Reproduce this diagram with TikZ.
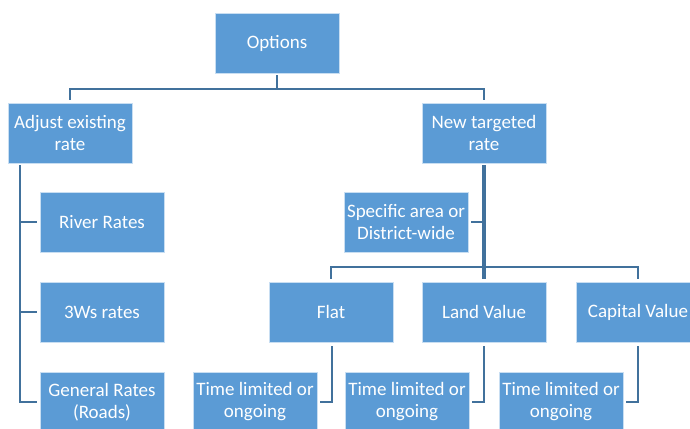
\documentclass[tikz,border=0pt]{standalone}
\usepackage{fontspec}
\setmainfont{Carlito}
\definecolor{boxblue}{RGB}{91,155,213}
\definecolor{edgeblue}{RGB}{200,222,242}
\definecolor{lineblue}{RGB}{65,113,156}
\begin{document}
\begin{tikzpicture}[x=1pt, y=-1pt,
    optbox/.style={draw=edgeblue, line width=0.8pt, fill=boxblue, text=white, minimum width=124pt, minimum height=60pt, inner sep=0pt, align=center, font=\fontsize{19}{22}\selectfont},
    link/.style={lineblue, line width=2pt}]
    \useasboundingbox (0,0) rectangle (690,428);
    \clip (0,0) rectangle (690,428);

    % Top levels
    \node[optbox] (opts) at (277, 43) {Options};
    \node[optbox] (adj) at (70, 133) {Adjust existing\\rate};
    \node[optbox] (ntr) at (484, 133) {New targeted\\rate};

    % Existing rates
    \node[optbox] (river) at (102, 222) {River Rates};
    \node[optbox] (threew) at (102, 312) {3Ws rates};
    \node[optbox] (general) at (102, 402) {General Rates\\(Roads)};

    % Targeted rate
    \node[optbox] (area) at (406, 222) {Specific area or\\District-wide};
    \node[optbox] (flat) at (331, 312) {Flat};
    \node[optbox] (land) at (484, 312) {Land Value};
    \node[optbox] (capital) at (638, 312) {Capital Value};
    \node[optbox] (timea) at (255, 402) {Time limited or\\ongoing};
    \node[optbox] (timeb) at (407, 402) {Time limited or\\ongoing};
    \node[optbox] (timec) at (561, 402) {Time limited or\\ongoing};

    % Connectors
    \draw[link] ([yshift=-2pt]opts.south) -- ++(0,14) -| ([yshift=3pt]adj.north);
    \draw[link] ([yshift=-2pt]opts.south) -- ++(0,14) -| ([yshift=3pt]ntr.north);

    \draw[link] ([xshift=-50pt, yshift=-2pt]adj.south) |- ([xshift=-3pt]river.west);
    \draw[link] ([xshift=-50pt, yshift=-2pt]adj.south) |- ([xshift=-3pt]threew.west);
    \draw[link] ([xshift=-50pt, yshift=-2pt]adj.south) |- ([xshift=-3pt]general.west);

    \draw[link, line width=4pt] ([yshift=-2pt]ntr.south) -- ([yshift=3pt]land.north);
    \draw[link] ([yshift=-2pt]ntr.south) |- ([xshift=3pt]area.east);
    \draw[link] ([yshift=15pt]land.north) -| ([yshift=3pt]flat.north);
    \draw[link] ([yshift=15pt]land.north) -| ([yshift=3pt]capital.north);

    \draw[link] ([xshift=1pt, yshift=-4pt]flat.south) |- ([xshift=3pt]timea.east);
    \draw[link] ([yshift=-4pt]land.south) |- ([xshift=3pt]timeb.east);
    \draw[link] ([yshift=-4pt]capital.south) |- ([xshift=3pt]timec.east);

\end{tikzpicture}
\end{document}
